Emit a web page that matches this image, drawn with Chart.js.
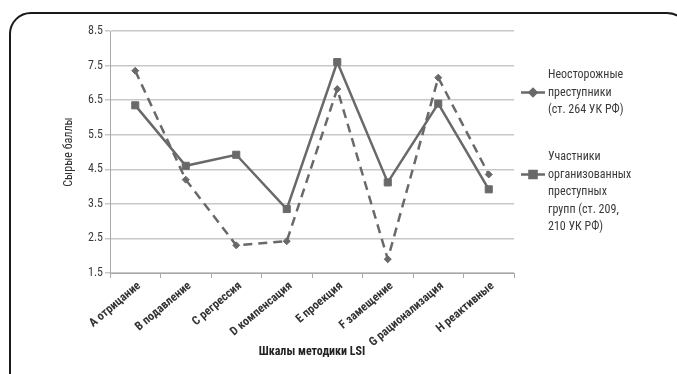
<!DOCTYPE html>
<html lang="ru">
<head>
<meta charset="utf-8">
<script src="https://cdn.jsdelivr.net/npm/chart.js@4.4.1/dist/chart.umd.min.js"></script>
<style>
  html, body { margin: 0; padding: 0; background: #fff; overflow: hidden; }
  #wrap { position: relative; width: 677px; height: 374px; overflow: hidden; }
  #frame {
    position: absolute; left: 9px; top: 12px; width: 676px; height: 420px;
    border: 2px solid #1a1a1a; border-radius: 22px;
  }
  #chart { position: absolute; left: 0; top: 0; }
</style>
</head>
<body>
<div id="wrap">
  <div id="frame"></div>
  <canvas id="chart" width="677" height="374"></canvas>
</div>
<script>
// Шкалы методики LSI
const categories = ['A отрицание', 'B подавление', 'C регрессия', 'D компенсация',
                    'E проекция', 'F замещение', 'G рационализация', 'H реактивные'];

// Неосторожные преступники (ст. 264 УК РФ)
const neostorozhnye = [7.35, 4.2, 2.3, 2.42, 6.82, 1.9, 7.15, 4.35];
// Участники организованных преступных групп (ст. 209, 210 УК РФ)
const organizovannye = [6.35, 4.6, 4.92, 3.35, 7.6, 4.12, 6.4, 3.92];

const legendNeostorozhnye = ['Неосторожные', 'преступники', '(ст. 264 УК РФ)'];
const legendOrganizovannye = ['Участники', 'организованных', 'преступных', 'групп (ст. 209,', '210 УК РФ)'];

const yTickLabels = ['1.5', '2.5', '3.5', '4.5', '5.5', '6.5', '7.5', '8.5'];

const FONT = "'Roboto Condensed', 'Open Sans', sans-serif";
const lineColor = '#696969';

// Легенда справа, в несколько строк
const sideLegend = {
    id: 'sideLegend',
    afterDraw(chart) {
        const ctx = chart.ctx;
        const x0 = 521, x1 = 545, tx = 548, lh = 17.5;
        const blocks = [
            { ds: chart.data.datasets[0], lines: legendNeostorozhnye, top: 75 },
            { ds: chart.data.datasets[1], lines: legendOrganizovannye, top: 157 }
        ];
        ctx.save();
        blocks.forEach(b => {
            const my = b.top + lh;
            ctx.strokeStyle = b.ds.borderColor;
            ctx.lineWidth = b.ds.borderWidth;
            ctx.setLineDash(b.ds.borderDash || []);
            ctx.beginPath();
            ctx.moveTo(x0, my);
            ctx.lineTo(x1, my);
            ctx.stroke();
            ctx.setLineDash([]);
            ctx.fillStyle = b.ds.backgroundColor;
            ctx.strokeStyle = b.ds.borderColor;
            Chart.helpers.drawPoint(ctx, {
                pointStyle: b.ds.pointStyle,
                radius: b.ds.pointRadius,
                borderWidth: 1
            }, (x0 + x1) / 2, my);
            ctx.fillStyle = '#3a3a3a';
            ctx.font = '12px ' + FONT;
            ctx.textBaseline = 'middle';
            ctx.textAlign = 'left';
            b.lines.forEach((t, i) => ctx.fillText(t, tx, b.top + i * lh));
        });
        ctx.restore();
    }
};

const ctx = document.getElementById('chart').getContext('2d');
new Chart(ctx, {
    type: 'line',
    data: {
        labels: categories,
        datasets: [{
            label: 'Неосторожные преступники (ст. 264 УК РФ)',
            data: neostorozhnye,
            borderColor: lineColor,
            backgroundColor: lineColor,
            borderWidth: 2.5,
            borderDash: [9, 6],
            pointStyle: 'rectRot',
            pointRadius: 3.5,
            pointBorderWidth: 1,
            tension: 0
        }, {
            label: 'Участники организованных преступных групп (ст. 209, 210 УК РФ)',
            data: organizovannye,
            borderColor: lineColor,
            backgroundColor: lineColor,
            borderWidth: 2.5,
            pointStyle: 'rect',
            pointRadius: 5,
            pointBorderWidth: 1,
            tension: 0
        }]
    },
    options: {
        responsive: false,
        devicePixelRatio: 1,
        animation: false,
        layout: { padding: { left: 62, right: 163, top: 31, bottom: 10 } },
        plugins: {
            legend: { display: false },
            tooltip: { enabled: false }
        },
        scales: {
            x: {
                offset: true,
                afterFit: s => { s.height = 91; },
                grid: { offset: true, drawOnChartArea: false, tickLength: 5, color: '#a8a8a8' },
                border: { color: '#a8a8a8' },
                ticks: {
                    autoSkip: false,
                    minRotation: 40,
                    maxRotation: 40,
                    labelOffset: 4,
                    padding: 1,
                    color: '#333',
                    font: { family: FONT, size: 12, weight: 'bold' }
                },
                title: {
                    display: true,
                    text: 'Шкалы методики LSI',
                    color: '#222',
                    font: { family: FONT, size: 12, weight: 'bold' },
                    padding: { top: 4, bottom: 5 }
                }
            },
            y: {
                min: 1.5,
                max: 8.5,
                afterFit: s => { s.width = 48; },
                grid: { color: '#c8c8c8', tickLength: 5, lineWidth: 1.5 },
                border: { color: '#a8a8a8' },
                ticks: {
                    stepSize: 1,
                    padding: 2,
                    color: '#3a3a3a',
                    font: { family: FONT, size: 12 },
                    callback: (v, i) => yTickLabels[i]
                },
                title: {
                    display: true,
                    text: 'Сырые баллы',
                    color: '#333',
                    font: { family: FONT, size: 12 },
                    padding: 0
                }
            }
        }
    },
    plugins: [sideLegend]
});
</script>
</body>
</html>
